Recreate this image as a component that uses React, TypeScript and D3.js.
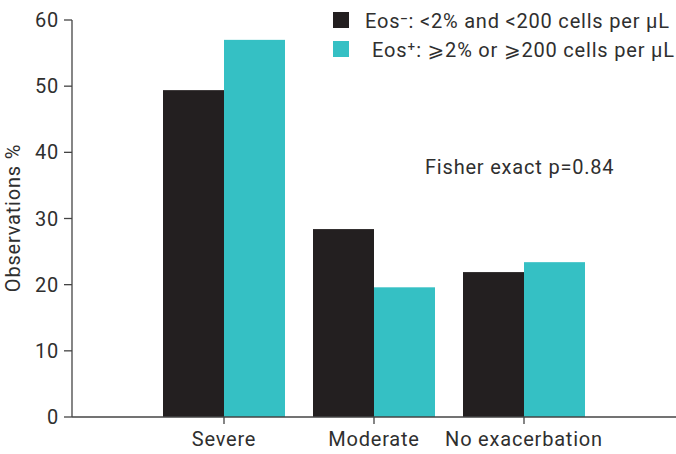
import React from "react";
import * as d3 from "d3";

const categories = ["Severe", "Moderate", "No exacerbation"];
const seriesNames = ["Eos⁻: <2% and <200 cells per μL", "Eos⁺: ⩾2% or ⩾200 cells per μL"];
const eosNeg = [49.4, 28.4, 21.9];
const eosPos = [57.0, 19.6, 23.4];
const yTicks = [0, 10, 20, 30, 40, 50, 60];
const colors = ["#231f20", "#35c0c4"];

const W = 676;
const H = 454;
const FONT = "Roboto, 'DejaVu Sans', 'Noto Sans', sans-serif";
const TEXT = "#2f2f2f";
const FS = 20;
const LS = 0.8;

export default function App() {
  const y = d3.scaleLinear().domain([0, 60]).range([417, 20]);
  const x = d3.scaleBand<string>().domain(categories).range([149, 599]).padding(0);
  const inner = d3.scaleBand<number>().domain([0, 1]).range([0, 122]);
  const series = [eosNeg, eosPos];
  const axisX = 72;

  return (
    <svg width={W} height={H} style={{ position: "absolute", left: 0, top: 0 }} fontFamily={FONT} letterSpacing={LS}>
      <rect width={W} height={H} fill="#fff" />
      {series.map((vals, si) =>
        categories.map((c, ci) => {
          const bx = (x(c) as number) + (x.bandwidth() - 122) / 2 + (inner(si) as number);
          return (
            <rect
              key={`${si}-${ci}`}
              x={bx}
              y={y(vals[ci])}
              width={inner.bandwidth()}
              height={y(0) - y(vals[ci])}
              fill={colors[si]}
            />
          );
        })
      )}
      {/* y axis */}
      <line x1={axisX} x2={axisX} y1={y(60)} y2={y(0)} stroke="#444" strokeWidth={1.3} />
      {yTicks.map((t) => (
        <g key={t}>
          <line x1={axisX - 8} x2={axisX} y1={y(t)} y2={y(t)} stroke="#444" strokeWidth={1.3} />
          <text x={axisX - 13} y={y(t)} dy="0.35em" textAnchor="end" fontSize={FS} fill={TEXT}>
            {t}
          </text>
        </g>
      ))}
      {/* x axis */}
      <line x1={axisX} x2={W} y1={y(0)} y2={y(0)} stroke="#444" strokeWidth={1.3} />
      {categories.map((c) => {
        const cx = (x(c) as number) + x.bandwidth() / 2;
        return (
          <g key={c}>
            <line x1={cx} x2={cx} y1={y(0)} y2={y(0) + 7} stroke="#444" strokeWidth={1.3} />
            <text x={cx} y={446} textAnchor="middle" fontSize={FS} fill={TEXT}>
              {c}
            </text>
          </g>
        );
      })}
      <text
        transform={`translate(20,218) rotate(-90)`}
        textAnchor="middle"
        fontSize={FS}
        fill={TEXT}
      >
        Observations %
      </text>
      {/* legend */}
      {seriesNames.map((n, i) => (
        <g key={n}>
          <rect x={333} y={12 + i * 29} width={16} height={16} fill={colors[i]} />
          <text x={i === 0 ? 365 : 372} y={28 + i * 29} fontSize={FS} fill={TEXT}>
            {n}
          </text>
        </g>
      ))}
      <text x={425} y={174} fontSize={FS} fill={TEXT}>
        Fisher exact p=0.84
      </text>
    </svg>
  );
}
